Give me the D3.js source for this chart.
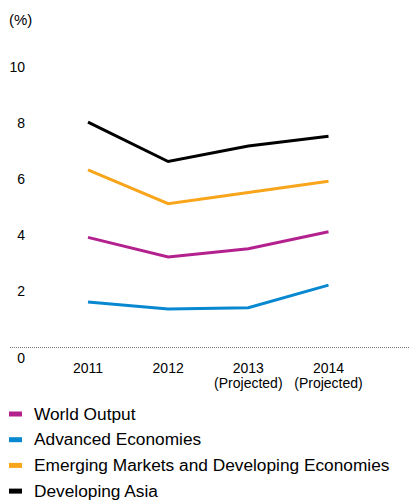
<!DOCTYPE html>
<html>
<head>
<meta charset="utf-8">
<script src="https://cdn.jsdelivr.net/npm/d3@7"></script>
<style>
  body { margin: 0; background: #fff; }
  svg { display: block; font-family: "Liberation Sans", Arial, Helvetica, sans-serif; }
</style>
</head>
<body>
<svg></svg>
<script>
// data
const years = ["2011", "2012", "2013", "2014"];
const subLabels = ["", "", "(Projected)", "(Projected)"];
const yTicks = [0, 2, 4, 6, 8, 10];

const worldOutput = [3.9, 3.2, 3.5, 4.1];
const advanced = [1.6, 1.35, 1.4, 2.2];
const emerging = [6.3, 5.1, 5.5, 5.9];
const devAsia = [8.0, 6.6, 7.15, 7.5];

const seriesNames = ["World Output", "Advanced Economies", "Emerging Markets and Developing Economies", "Developing Asia"];
const seriesColors = ["#b3218e", "#0888d0", "#f8a51b", "#000000"];
const seriesValues = [worldOutput, advanced, emerging, devAsia];

var w = 410;
var h = 502;

let svg = d3.select("svg")
  .attr("width", w)
  .attr("height", h);

let xScale = d3.scalePoint()
  .domain(years)
  .range([88, 328.5]);
let yScale = d3.scaleLinear()
  .domain([0, 10])
  .range([347, 66]);

// unit label
svg.append("text")
  .attr("x", 9)
  .attr("y", 25)
  .style("font-size", "15px")
  .text("(%)");

// dotted zero line
svg.append("line")
  .attr("x1", 10)
  .attr("x2", w)
  .attr("y1", yScale(0) + 0.5)
  .attr("y2", yScale(0) + 0.5)
  .attr("stroke", "#777")
  .attr("stroke-width", 1)
  .attr("stroke-dasharray", "1,1");

// y axis, labels only
let yAxisG = svg.append("g")
  .attr("transform", "translate(25,0)")
  .call(d3.axisLeft(yScale).tickValues(yTicks).tickSize(0).tickPadding(0));
yAxisG.select(".domain").remove();
yAxisG.selectAll("text")
  .style("font-size", "14px")
  .style("font-family", "Liberation Sans, Arial, sans-serif")
  .attr("fill", "#000")
  .attr("dy", function(d) { return d == 0 ? "1.1em" : "0.36em"; });

// x labels
let xLab = svg.append("g").selectAll("text")
  .data(years)
  .enter()
  .append("text")
  .attr("text-anchor", "middle")
  .style("font-size", "14px")
  .attr("x", function(d) { return xScale(d); })
  .attr("y", 373);
xLab.append("tspan")
  .attr("x", function(d) { return xScale(d); })
  .text(function(d) { return d; });
xLab.append("tspan")
  .attr("x", function(d) { return xScale(d); })
  .attr("dy", 15)
  .text(function(d, i) { return subLabels[i]; });

// lines
let line = d3.line()
  .x(function(d, i) { return xScale(years[i]); })
  .y(function(d) { return yScale(d); });

svg.append("g").selectAll("path")
  .data(seriesValues)
  .enter()
  .append("path")
  .attr("d", function(d) { return line(d); })
  .attr("fill", "none")
  .attr("stroke", function(d, i) { return seriesColors[i]; })
  .attr("stroke-width", 3);

// legend
let legend = svg.append("g").selectAll("g")
  .data(seriesNames)
  .enter()
  .append("g")
  .attr("transform", function(d, i) { return `translate(0,${419.5 + i * 25.7})`; });
legend.append("rect")
  .attr("x", 9)
  .attr("y", -8)
  .attr("width", 13)
  .attr("height", 5)
  .attr("fill", function(d, i) { return seriesColors[i]; });
legend.append("text")
  .attr("x", 34)
  .attr("y", 0)
  .style("font-size", "17.3px")
  .text(function(d) { return d; });
</script>
</body>
</html>
